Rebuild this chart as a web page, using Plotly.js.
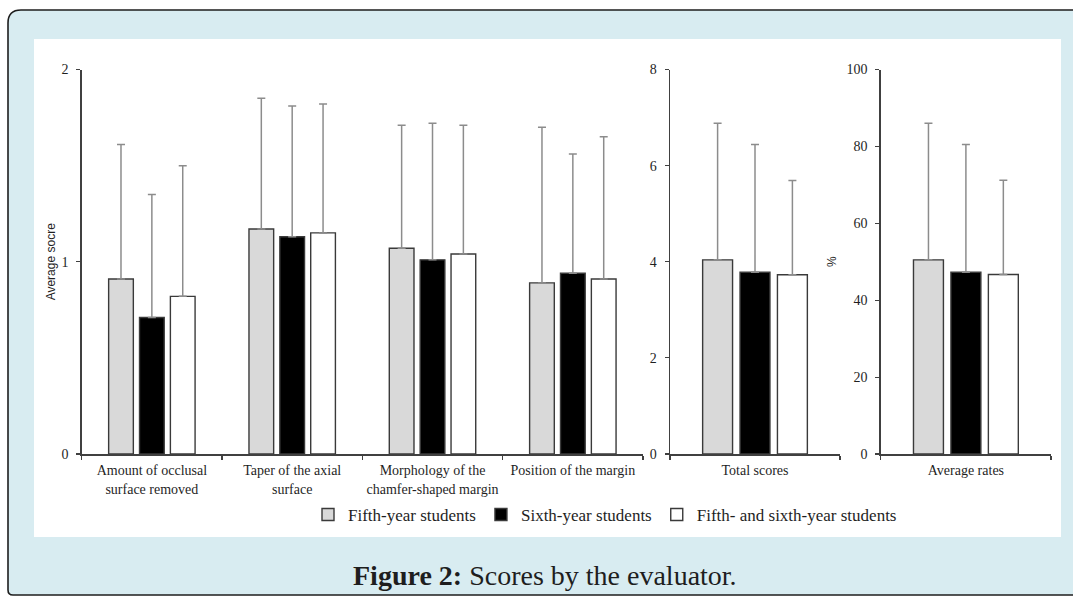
<!DOCTYPE html>
<html>
<head>
<meta charset="utf-8">
<script src="https://cdn.plot.ly/plotly-3.0.1.min.js"></script>
<style>
  html, body { margin: 0; padding: 0; background: #ffffff; }
  #chart { width: 1073px; height: 598px; }
</style>
</head>
<body>
<div id="chart"></div>
<script>
// ---- data ----
const criteria = [
  "Amount of occlusal<br>surface removed",
  "Taper of the axial<br>surface",
  "Morphology of the<br>chamfer-shaped margin",
  "Position of the margin"
];
const totalCategory = ["Total scores"];
const rateCategory = ["Average rates"];

const seriesNames = ["Fifth-year students", "Sixth-year students", "Fifth- and sixth-year students"];

// average score per criterion (mean, SD)
const fifthMean = [0.91, 1.17, 1.07, 0.89];
const fifthSD   = [0.70, 0.68, 0.64, 0.81];
const sixthMean = [0.71, 1.13, 1.01, 0.94];
const sixthSD   = [0.64, 0.68, 0.71, 0.62];
const bothMean  = [0.82, 1.15, 1.04, 0.91];
const bothSD    = [0.68, 0.67, 0.67, 0.74];

// total scores (mean, SD)
const totalMean = [4.04, 3.78, 3.73];
const totalSD   = [2.84, 2.66, 1.96];

// average rates % (mean, SD)
const rateMean = [50.5, 47.3, 46.7];
const rateSD   = [35.5, 33.2, 24.5];

// tick values
const ticks1 = [0, 1, 2];
const ticks2 = [0, 2, 4, 6, 8];
const ticks3 = [0, 20, 40, 60, 80, 100];

// ---- styling ----
const W = 1073, H = 598;
const fx = x => x / W;
const fy = y => 1 - y / H;

const fills = ["#d9d9d9", "#000000", "#ffffff"];
const outline = "#3a3a3a";
const errColor = "#8c8c8c";
const serif = "Liberation Serif, Times New Roman, serif";
const sans = "Liberation Sans, Arial, sans-serif";
const textColor = "#1f1f1f";

function barTrace(name, idx, x, y, sd, xa, ya, showLegend) {
  return {
    type: "bar",
    name: name,
    x: x,
    y: y,
    xaxis: xa,
    yaxis: ya,
    legendgroup: "g" + idx,
    showlegend: showLegend,
    marker: { color: fills[idx], line: { color: outline, width: 1.4 } },
    error_y: {
      type: "data",
      symmetric: false,
      array: sd,
      arrayminus: sd.map(() => 0),
      color: errColor,
      thickness: 1.5,
      width: 4
    },
    hoverinfo: "skip"
  };
}

const means1 = [fifthMean, sixthMean, bothMean];
const sds1 = [fifthSD, sixthSD, bothSD];
const traces = [];
for (let i = 0; i < 3; i++) {
  traces.push(barTrace(seriesNames[i], i, criteria, means1[i], sds1[i], "x", "y", true));
}
for (let i = 0; i < 3; i++) {
  traces.push(barTrace(seriesNames[i], i, totalCategory, [totalMean[i]], [totalSD[i]], "x2", "y2", false));
}
for (let i = 0; i < 3; i++) {
  traces.push(barTrace(seriesNames[i], i, rateCategory, [rateMean[i]], [rateSD[i]], "x3", "y3", false));
}

const yDomain = [fy(454), fy(69.5)];

function xAxis(domain, anchor) {
  return {
    domain: domain,
    anchor: anchor,
    type: "category",
    showline: true,
    linecolor: "#404040",
    linewidth: 1.5,
    ticks: "outside",
    tickson: "boundaries",
    ticklen: 4,
    tickwidth: 1.2,
    tickcolor: "#404040",
    showgrid: false,
    zeroline: false,
    tickangle: 0,
    ticklabelstandoff: 3,
    tickfont: { family: serif, size: 14, color: textColor },
    fixedrange: true
  };
}
function yAxis(anchor, range, tickvals, title, standoff) {
  return {
    domain: yDomain,
    anchor: anchor,
    range: range,
    tickmode: "array",
    tickvals: tickvals,
    showline: true,
    linecolor: "#404040",
    linewidth: 1.5,
    ticks: "outside",
    ticklen: 4,
    tickwidth: 1.2,
    tickcolor: "#404040",
    showgrid: false,
    zeroline: false,
    ticklabelstandoff: 5,
    tickfont: { family: serif, size: 14, color: textColor },
    title: { text: title, font: { family: sans, size: 12, color: textColor }, standoff: standoff },
    fixedrange: true
  };
}

const shapes = [
  // outer blue frame with rounded left corners
  {
    type: "path", xref: "paper", yref: "paper", layer: "below",
    path: `M ${fx(8)},${fy(23)} Q ${fx(8)},${fy(10)} ${fx(21)},${fy(10)} L ${fx(1090)},${fy(10)} L ${fx(1090)},${fy(595)} L ${fx(13)},${fy(595)} Q ${fx(8)},${fy(595)} ${fx(8)},${fy(590)} Z`,
    fillcolor: "#d8ecf1",
    line: { color: "#1e1e1e", width: 1.6 }
  },
  // white chart panel
  {
    type: "rect", xref: "paper", yref: "paper", layer: "below",
    x0: fx(34), x1: fx(1061), y0: fy(537), y1: fy(39),
    fillcolor: "#ffffff",
    line: { width: 0 }
  }
];

const layout = {
  width: W,
  height: H,
  margin: { l: 0, r: 0, t: 0, b: 0, pad: 0 },
  paper_bgcolor: "#ffffff",
  plot_bgcolor: "rgba(0,0,0,0)",
  barmode: "group",
  bargap: 0.34,
  bargroupgap: 0.2,
  showlegend: true,
  legend: {
    orientation: "h",
    x: fx(605),
    xanchor: "center",
    y: fy(515),
    yanchor: "middle",
    font: { family: serif, size: 17, color: "#1e1e1e" },
    bgcolor: "rgba(0,0,0,0)",
    traceorder: "normal"
  },
  xaxis: xAxis([fx(81.7), fx(643)], "y"),
  yaxis: yAxis("x", [0, 2], ticks1, "Average socre", 3),
  xaxis2: xAxis([fx(670), fx(840)], "y2"),
  yaxis2: yAxis("x2", [0, 8], ticks2, "", 0),
  xaxis3: xAxis([fx(880.8), fx(1051)], "y3"),
  yaxis3: yAxis("x3", [0, 100], ticks3, "%", 7),
  shapes: shapes,
  annotations: [
    {
      xref: "paper", yref: "paper",
      x: fx(545), y: fy(575),
      xanchor: "center", yanchor: "middle",
      showarrow: false,
      text: "<b>Figure 2:</b> Scores by the evaluator.",
      font: { family: serif, size: 28, color: "#1e1e1e" }
    }
  ]
};

Plotly.newPlot("chart", traces, layout, { displayModeBar: false, staticPlot: true });
</script>
</body>
</html>
